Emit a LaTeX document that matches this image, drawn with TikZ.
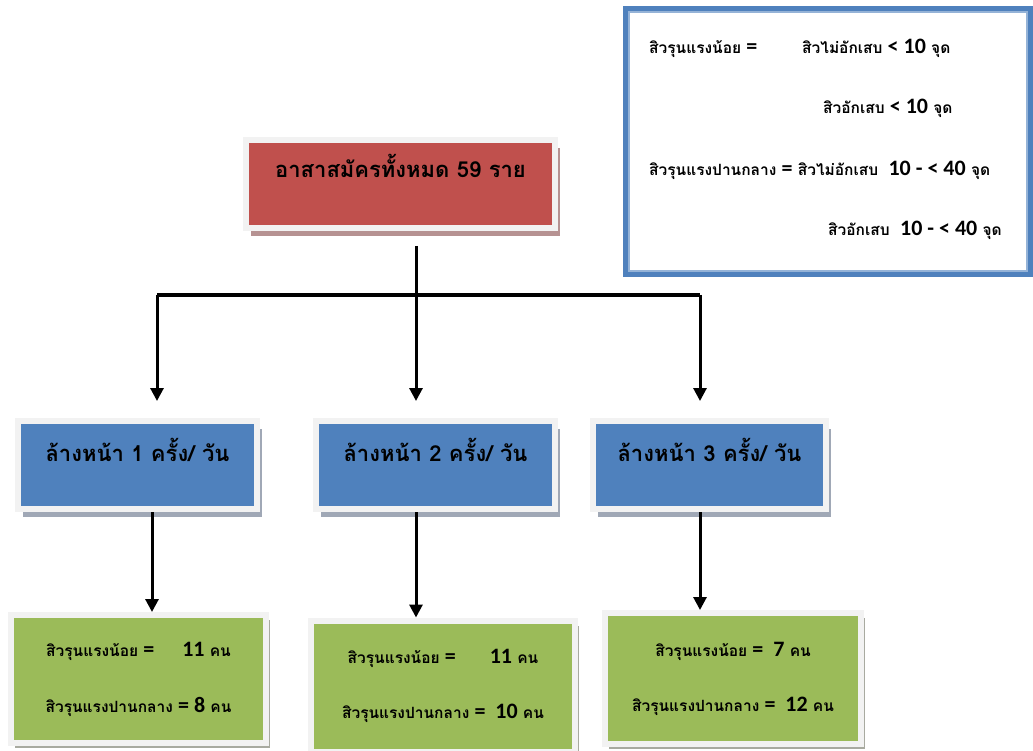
\documentclass[tikz,border=0pt]{standalone}
\usepackage{fontspec}
\setmainfont{Loma}[Script=Thai]
\newfontfamily\numfont{Carlito}
\usepackage{tikz}
\usetikzlibrary{arrows.meta,shadows,calc}
\definecolor{box_red}{RGB}{192, 80, 77}
\definecolor{box_blue}{RGB}{79, 129, 189}
\definecolor{box_green}{RGB}{155, 187, 89}
\definecolor{box_frame}{RGB}{242, 242, 242}
\definecolor{red_shade}{RGB}{182, 146, 146}
\definecolor{blue_shade}{RGB}{160, 168, 182}
\definecolor{green_shade}{RGB}{168, 170, 160}
\definecolor{key_blue}{RGB}{79, 129, 189}
\definecolor{key_light}{RGB}{149, 179, 215}
\newcommand\bnum[1]{{\numfont\bfseries\fontsize{22}{24}\selectfont #1}}
\tikzstyle{all}=[rectangle,fill=box_red,draw=box_frame,line width=6pt,
  minimum width=309pt,inner ysep=0pt,text height=38pt,text depth=50pt,
  font=\bfseries\fontsize{22}{26}\selectfont,
  drop shadow={shadow xshift=5pt,shadow yshift=-8pt,fill=red_shade,opacity=1}]
\tikzstyle{wash}=[rectangle,fill=box_blue,draw=box_frame,line width=6pt,
  minimum width=239pt,inner ysep=0pt,text height=40pt,text depth=48pt,
  font=\bfseries\fontsize{22}{26}\selectfont,
  drop shadow={shadow xshift=5pt,shadow yshift=-8pt,fill=blue_shade,opacity=1}]
\tikzstyle{acne}=[rectangle,fill=box_green,draw=box_frame,line width=6pt,
  minimum width=255pt,minimum height=128pt,align=center,
  font=\bfseries\fontsize{15.5}{19}\selectfont,
  drop shadow={shadow xshift=4pt,shadow yshift=-5pt,fill=green_shade,opacity=1}]
\tikzstyle{key}=[rectangle,draw=key_blue,line width=7pt,
  minimum width=403pt,minimum height=264pt]
\tikzstyle{keytxt}=[anchor=base west,inner sep=0pt,
  font=\bfseries\fontsize{15.5}{19}\selectfont]
\tikzstyle{arr}=[line width=3pt,-{Triangle[width=13pt,length=13pt]}]
\tikzstyle{bar}=[line width=3pt]

\begin{document}
\begin{tikzpicture}[x=1pt,y=-1pt]
        \clip (0,0) rectangle (1033,751);
        % legend
        \node[style=key] (key) at (828,141.5) {};
        \draw[key_light,line width=2pt] ($(key.north west)+(6,6)$) rectangle ($(key.south east)+(-6,-6)$);
        \node[style=keytxt] (k1) at (649,54) {สิวรุนแรงน้อย \bnum{=}};
        \node[style=keytxt] (k2) at (802,54) {สิวไม่อักเสบ \bnum{< 10} จุด};
        \node[style=keytxt] (k3) at (823,114) {สิวอักเสบ \bnum{< 10} จุด};
        \node[style=keytxt] (k4) at (649,176) {สิวรุนแรงปานกลาง \bnum{=} สิวไม่อักเสบ\ \ \bnum{10 - < 40} จุด};
        \node[style=keytxt] (k5) at (828,236) {สิวอักเสบ\ \ \bnum{10 - < 40} จุด};
        % boxes
        \node[style=all] (all) at (400.5,184) {อาสาสมัครทั้งหมด 59 ราย};
        \node[style=wash] (w1) at (137.5,465) {ล้างหน้า 1 ครั้ง/ วัน};
        \node[style=wash] (w2) at (435.5,465) {ล้างหน้า 2 ครั้ง/ วัน};
        \node[style=wash,minimum width=233pt] (w3) at (709.5,465) {ล้างหน้า 3 ครั้ง/ วัน};
        \node[style=acne] (g1) at (138.5,679) {สิวรุนแรงน้อย \bnum{=}\hspace{28pt}\bnum{11} คน\\[36pt]
          สิวรุนแรงปานกลาง \bnum{= 8} คน};
        \node[style=acne,minimum width=264pt,minimum height=131pt] (g2) at (443,686) {สิวรุนแรงน้อย \bnum{=}\hspace{34pt}\bnum{11} คน\\[36pt]
          สิวรุนแรงปานกลาง \bnum{=\ \ 10} คน};
        \node[style=acne,minimum width=256pt,minimum height=131pt] (g3) at (733,678.5) {สิวรุนแรงน้อย \bnum{=\ \ 7} คน\\[36pt]
          สิวรุนแรงปานกลาง \bnum{=\ \ 12} คน};
        % connectors
        \coordinate (trunk) at (416,246);
        \coordinate (bar-l) at (157,295);
        \coordinate (bar-r) at (700,295);
        \coordinate (drop1) at (152,0);
        \coordinate (drop2) at (416,0);
        \coordinate (drop3) at (700,0);
        \draw[style=bar] (bar-l) to (bar-r);
        \draw[style=arr,shorten >=17pt] (trunk) to (trunk |- w2.north);
        \draw[style=arr,shorten >=17pt] (bar-l) to (bar-l |- w1.north);
        \draw[style=arr,shorten >=17pt] (bar-r) to (bar-r |- w3.north);
        \draw[style=arr] (w1.south -| drop1) to (g1.north -| drop1);
        \draw[style=arr] (w2.south -| drop2) to (g2.north -| drop2);
        \draw[style=arr] (w3.south -| drop3) to (g3.north -| drop3);
    \end{tikzpicture}
\end{document}
